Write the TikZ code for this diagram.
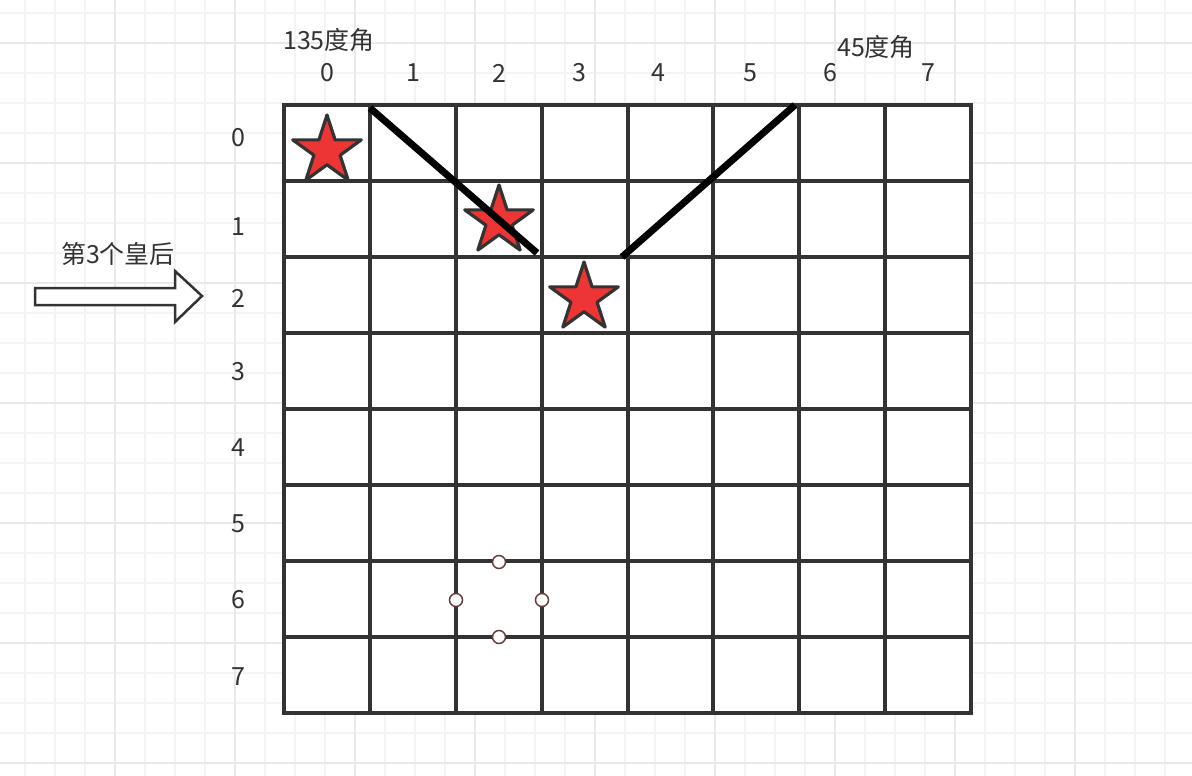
\documentclass[tikz,border=0pt]{standalone}
\usepackage{fontspec}
\setmainfont{Noto Sans CJK SC}
\usetikzlibrary{shapes,positioning}
\definecolor{inkgray}{HTML}{333333}
\definecolor{starred}{HTML}{EE3535}
\definecolor{dotbrown}{HTML}{6B3B3B}
\definecolor{gridminor}{HTML}{F3F3F3}
\definecolor{gridmajor}{HTML}{E9E9E9}

\begin{document}
\begin{tikzpicture}
  [
    x=1pt, y=-1pt,
    Label/.style={text=inkgray, font=\fontsize{25}{29}\selectfont, inner sep=0},
    Queen/.style={star, star points=5, star point ratio=2.618, draw=inkgray, fill=starred, line width=3.2pt, line join=round, minimum size=72pt, inner sep=0},
    Diag/.style={black, line width=7pt},
    Dot/.style={circle, draw=dotbrown, fill=white, line width=1.5pt, minimum size=13pt, inner sep=0}
  ]
  \useasboundingbox (0,0) rectangle (1192,776);
  % Background grid
  \foreach \x in {25,55,...,1165} \draw[gridminor, line width=1.5pt] (\x,0) -- (\x,776);
  \foreach \y in {13,43,...,763} \draw[gridminor, line width=1.5pt] (0,\y) -- (1192,\y);
  \foreach \x in {115,235,...,1075} \draw[gridmajor, line width=1.5pt] (\x,0) -- (\x,776);
  \foreach \y in {43,163,...,763} \draw[gridmajor, line width=1.5pt] (0,\y) -- (1192,\y);
  % Board
  \fill[white] (284,105) rectangle (971,713);
  \foreach \i in {0,...,8} {
    \draw[inkgray, line width=4pt] (284+\i*85.875,103) -- (284+\i*85.875,715);
    \draw[inkgray, line width=4pt] (282,105+\i*76) -- (973,105+\i*76);
  }
  % Labels
  \foreach \x/\n in {327/0, 413/1, 499/2, 579/3, 658/4, 750/5, 830/6, 928/7}
    \node[Label] (col\n) at (\x,73) {\n};
  \foreach \y/\n in {138/0, 227/1, 298/2, 372/3, 448/4, 524/5, 600/6, 677/7}
    \node[Label] (row\n) at (238,\y) {\n};
  \node[Label] (ang135) at (329,40) {135度角};
  \node[Label] (ang45) at (876,47) {45度角};
  \node[Label] (third) at (118,254) {第3个皇后};
  % Arrow
  \draw[inkgray, fill=white, line width=2.5pt, line join=miter]
    (35,288) -- (175,288) -- (175,271) -- (202,296) -- (175,322) -- (175,305) -- (35,305) -- cycle;
  % Queens
  \node[Queen] (q0) at (327,151) {};
  \node[Queen] (q1) at (499,221) {};
  \node[Queen] (q2) at (584,298) {};
  % Lines
  \coordinate (d135a) at (370,108);
  \coordinate (d135b) at (537,253);
  \coordinate (d45a) at (622,257);
  \coordinate (d45b) at (795,105);
  \draw[Diag] (d135a) -- (d135b);
  \draw[Diag] (d45a) -- (d45b);
  % Points
  \node[Dot] (p1) at (499,562) {};
  \node[Dot] (p2) at (456,600) {};
  \node[Dot] (p3) at (542,600) {};
  \node[Dot] (p4) at (499,637) {};
\end{tikzpicture}
\end{document}
